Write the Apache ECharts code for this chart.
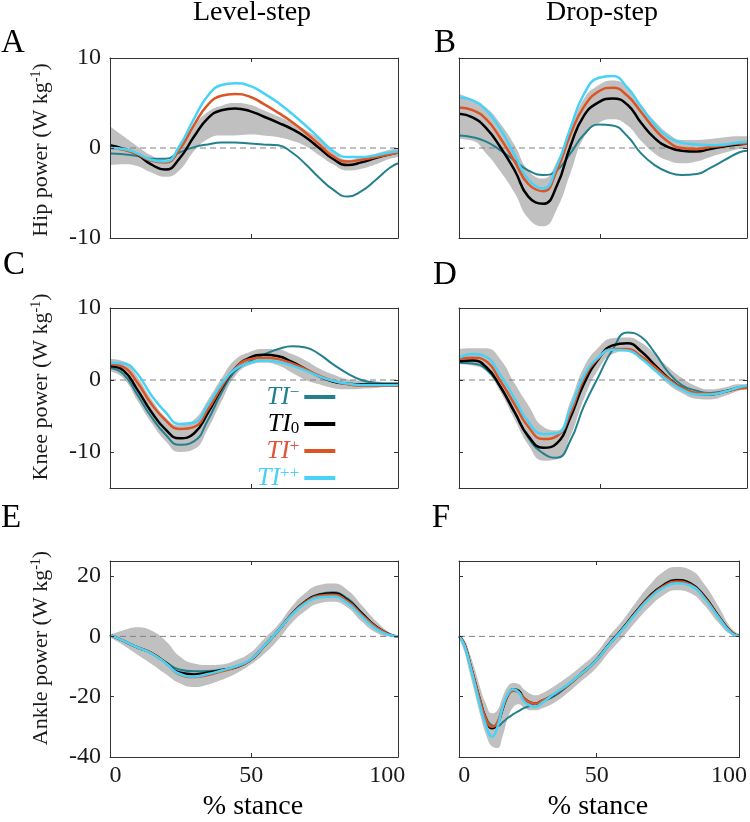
<!DOCTYPE html>
<html><head><meta charset="utf-8">
<script src="https://cdn.jsdelivr.net/npm/echarts@6/dist/echarts.min.js"></script>
<style>html,body{margin:0;padding:0;background:#fff}#c{width:750px;height:822px}</style>
</head><body><div id="c"></div>
<script>
// % stance sample positions
const stance = [-2,3,8,13,18.5,23.5,29,34,39,44,49.5,54.5,60,65,70,75,80,85.5,90.5,96,101,104];
const stanceF = [-2,0,2,4,6,8,10.5,12.5,14.5,16.5,18.5,20.5,22.5,25,27,29,34,39,44,49.5,54.5,60,65,70,75,80,85.5,90.5,96,101,104];

// A: Hip power, level-step
const hipLevelTIminus = [-0.6,-0.7,-0.9,-1.2,-1.2,-0.5,0.1,0.4,0.6,0.6,0.5,0.4,0.3,-0.5,-1.8,-3.3,-4.6,-5.4,-4.8,-3.5,-2.2,-1.7];
const hipLevelTI0     = [0.3,-0.1,-0.7,-1.8,-2.4,-1.2,1.3,3.3,4.2,4.4,4.1,3.5,2.8,2.1,1.2,0.0,-1.2,-1.9,-1.6,-1.1,-0.7,-0.5];
const hipLevelTIplus  = [0.0,-0.2,-0.7,-1.4,-1.6,-0.2,2.6,4.8,5.8,6.0,5.7,4.9,3.9,2.9,1.7,0.4,-0.9,-1.5,-1.3,-1.0,-0.7,-0.5];
const hipLevelTIpp    = [0.0,-0.1,-0.6,-1.3,-1.5,0.2,3.3,5.8,7.0,7.2,6.9,6.1,5.0,3.8,2.5,1.1,-0.3,-1.0,-1.0,-0.8,-0.5,-0.4];
const hipLevelLow     = [-1.9,-1.8,-2.0,-2.7,-3.2,-2.5,-0.3,1.0,1.4,1.4,1.5,1.4,1.2,0.8,0.2,-0.8,-1.8,-2.5,-2.3,-1.8,-1.2,-1.0];
const hipLevelHigh    = [2.4,1.3,0.2,-0.8,-1.5,0.2,2.5,4.0,4.7,5.0,4.8,4.2,3.5,2.8,2.0,1.0,-0.3,-1.3,-1.0,-0.6,-0.2,0.0];

// B: Hip power, drop-step
const hipDropTIminus = [1.4,1.2,0.7,-0.2,-1.4,-2.5,-3.0,-2.5,-0.6,1.5,2.6,2.5,1.3,-0.6,-1.9,-2.7,-3.0,-2.9,-2.2,-1.3,-0.5,-0.3];
const hipDropTI0     = [3.8,3.4,2.2,0.2,-2.5,-5.4,-6.2,-4.2,0.2,3.6,5.1,5.5,4.8,2.8,1.1,0.1,-0.3,-0.4,-0.1,0.2,0.4,0.5];
const hipDropTIplus  = [4.5,4.2,3.2,1.2,-1.5,-4.0,-4.8,-2.5,1.5,4.6,6.3,6.7,5.8,4.0,2.1,0.7,0.0,-0.1,0.1,0.3,0.5,0.5];
const hipDropTIpp    = [5.6,5.3,4.2,2.2,-0.8,-3.5,-4.5,-2.0,2.2,6.0,7.8,8.0,6.7,4.6,2.6,1.2,0.6,0.4,0.3,0.4,0.6,0.7];
const hipDropLow     = [1.0,0.8,-0.6,-2.5,-5.0,-7.8,-8.7,-6.8,-2.8,1.2,2.8,3.2,2.5,0.8,-0.6,-1.4,-1.7,-1.5,-1.0,-0.5,-0.1,0.0];
const hipDropHigh    = [6.0,5.4,4.5,2.8,0.3,-2.5,-3.4,-1.5,2.0,5.5,7.0,7.5,6.8,4.8,3.0,1.6,0.9,0.9,1.0,1.2,1.3,1.3];

// C: Knee power, level-step
const kneeLevelTIminus = [1.7,0.8,-2.0,-5.0,-7.6,-9.0,-8.5,-5.6,-1.8,1.2,2.6,3.5,4.3,4.7,4.5,3.6,2.2,0.9,0.0,-0.4,-0.5,-0.5];
const kneeLevelTI0     = [1.9,1.3,-1.3,-4.3,-6.9,-8.1,-7.4,-4.6,-1.2,1.6,3.1,3.5,3.3,2.5,1.5,0.5,-0.2,-0.5,-0.6,-0.6,-0.6,-0.6];
const kneeLevelTIplus  = [2.2,1.8,-0.3,-3.2,-5.6,-6.8,-6.5,-4.1,-1.0,1.6,2.9,3.1,2.9,2.3,1.5,0.6,-0.1,-0.6,-0.8,-0.8,-0.8,-0.8];
const kneeLevelTIpp    = [2.4,2.3,0.9,-2.0,-4.5,-6.1,-5.9,-3.5,-0.6,1.5,2.4,2.7,2.5,2.0,1.3,0.5,-0.1,-0.5,-0.7,-0.7,-0.7,-0.7];
const kneeLevelLow     = [1.2,0.2,-2.8,-5.8,-8.5,-10.0,-9.6,-6.8,-3.0,0.5,2.1,2.4,2.0,1.0,0.0,-0.6,-1.1,-1.3,-1.2,-1.1,-0.9,-0.9];
const kneeLevelHigh    = [2.9,2.6,0.5,-2.5,-5.2,-6.3,-5.5,-2.8,0.2,2.8,3.9,4.3,4.2,3.6,2.7,1.6,0.8,0.1,-0.1,-0.2,-0.3,-0.3];

// D: Knee power, drop-step
const kneeDropTIminus = [2.4,2.3,1.5,-0.8,-4.4,-8.0,-10.2,-10.8,-8.4,-3.6,0.6,4.2,6.6,6.0,3.8,1.1,-0.7,-1.5,-1.8,-1.5,-1.0,-0.8];
const kneeDropTI0     = [2.6,2.7,1.8,-0.8,-4.5,-7.8,-9.4,-8.8,-5.2,-0.5,3.0,4.8,5.1,4.0,2.1,0.3,-1.1,-1.9,-2.0,-1.6,-1.1,-0.9];
const kneeDropTIplus  = [2.9,3.1,2.6,0.0,-3.4,-6.5,-8.2,-7.8,-4.6,0.2,3.1,4.3,4.3,3.3,1.8,0.2,-1.1,-1.8,-1.9,-1.6,-1.2,-1.1];
const kneeDropTIpp    = [3.1,3.6,3.2,0.8,-2.6,-5.8,-7.5,-7.4,-4.0,0.6,3.2,4.2,4.1,3.0,1.4,-0.1,-1.3,-2.0,-2.0,-1.6,-1.0,-0.8];
const kneeDropLow     = [2.2,2.0,1.2,-1.5,-5.5,-9.0,-11.2,-11.0,-7.8,-2.6,1.6,3.6,4.0,3.0,1.2,-0.6,-1.8,-2.6,-2.7,-2.2,-1.5,-1.3];
const kneeDropHigh    = [4.3,4.4,4.4,3.0,-0.5,-3.5,-6.5,-7.0,-3.0,1.8,4.6,5.8,5.9,5.2,3.6,1.8,0.3,-0.9,-1.3,-1.0,-0.6,-0.6];

// E: Ankle power, level-step
const ankleLevelTIminus = [0.5,-1.5,-3.6,-5.4,-8.5,-11.0,-11.6,-11.5,-11.0,-10.2,-8.0,-3.5,2.0,7.6,11.8,14.0,14.6,12.5,8.0,3.3,0.6,0.0];
const ankleLevelTI0     = [0.5,-1.5,-3.6,-5.4,-8.7,-12.0,-12.6,-12.0,-11.2,-10.3,-8.0,-3.5,2.0,7.5,11.6,13.8,14.3,12.0,7.8,3.2,0.6,0.0];
const ankleLevelTIplus  = [0.5,-1.5,-3.6,-5.4,-8.8,-12.6,-13.5,-12.8,-11.6,-10.3,-8.0,-3.5,2.0,7.4,11.4,13.5,13.8,11.6,7.4,3.0,0.6,0.0];
const ankleLevelTIpp    = [0.5,-1.5,-3.6,-5.5,-8.9,-12.4,-13.3,-12.5,-11.3,-10.0,-7.8,-3.4,2.0,7.2,11.0,13.0,13.2,11.0,6.8,2.4,0.4,0.0];
const ankleLevelLow     = [-0.3,-3.0,-6.0,-9.0,-12.5,-15.5,-16.8,-16.0,-14.5,-12.5,-9.5,-6.0,-1.0,4.5,8.5,11.0,11.5,9.5,5.0,1.2,0.0,0.0];
const ankleLevelHigh    = [0.5,2.0,3.0,2.0,-1.5,-6.5,-9.0,-9.5,-9.3,-8.0,-5.5,-1.0,4.0,10.0,14.5,17.0,17.5,15.3,10.5,5.0,1.2,0.3];

// F: Ankle power, drop-step
const ankleDropTIminus = [0,-2.5,-8.5,-15,-21,-26.5,-29.5,-29.8,-28.5,-27,-25.8,-24.8,-23.8,-23,-22.3,-21.8,-19.8,-16.5,-12.6,-8.2,-2.8,2.9,8.4,13.5,17.0,18.8,17.7,13.6,6.9,1.3,0.2];
const ankleDropTI0     = [0,-2.5,-8.5,-15,-21.5,-27,-30.5,-29,-24,-19.5,-17.5,-18,-20.5,-22,-22.3,-21.5,-19.3,-16.2,-12.5,-8.2,-2.8,2.8,8.3,13.3,16.8,18.6,17.5,13.5,6.8,1.3,0.2];
const ankleDropTIplus  = [0,-2.5,-8.5,-15,-21.5,-27,-30,-28.5,-23.5,-19.5,-18,-18.5,-20.5,-22,-22.3,-21.5,-19.2,-16.3,-12.7,-8.4,-3.0,2.6,8.1,13.0,16.5,18.2,17.2,13.2,6.6,1.2,0.2];
const ankleDropTIpp    = [0,-3,-9,-16,-23,-29,-33.3,-30,-23.5,-19,-17.5,-18.5,-21.5,-23,-23.3,-22.3,-19,-16,-12.5,-8.3,-3,2.5,7.8,12.6,16,17.6,16.8,12.8,6.3,1.0,0.1];
const ankleDropLow     = [-0.5,-5,-12,-19,-26,-32,-36.5,-37,-33,-27,-23.5,-22.5,-23.5,-24.5,-24.5,-24,-22,-18.8,-15,-10.8,-5.5,-0.2,5,9.8,13.5,15.3,14.3,10.5,4.5,0.5,0];
const ankleDropHigh    = [0.5,-1,-5.5,-11,-17,-22,-25.5,-24.5,-20,-16.5,-15.5,-15.8,-17.5,-19,-19.5,-19,-16.5,-13.5,-10,-5.8,-0.2,5.5,11.5,17,21.3,23,22,17.5,10,2.5,0.8];

// axis ticks
const xTickLabels = [0, 50, 100];
const xTickMarks = [50];
const hipTicks = [-10, 0, 10];
const kneeTicks = [-10, 0, 10];
const ankleTicks = [-40, -20, 0, 20];

const seriesNames = ['TI\u2212', 'TI0', 'TI+', 'TI++'];

const FONT = 'Liberation Serif';
const COLORS = ['#23808d', '#000000', '#dc5424', '#47d2f6'];
const WIDTHS = [2, 2.5, 2.5, 2.5];
const BAND = '#c0c0c0';
const AXC = '#333333';

const panels = [
  {x: stance, lo: hipLevelLow, hi: hipLevelHigh, s: [hipLevelTIminus, hipLevelTI0, hipLevelTIplus, hipLevelTIpp],
   grid: {left: 110, top: 58, width: 288, height: 180}, y: [-10, 10], yt: hipTicks, ylab: true, xlab: false},
  {x: stance, lo: hipDropLow, hi: hipDropHigh, s: [hipDropTIminus, hipDropTI0, hipDropTIplus, hipDropTIpp],
   grid: {left: 459, top: 58, width: 288, height: 180}, y: [-10, 10], yt: hipTicks, ylab: false, xlab: false},
  {x: stance, lo: kneeLevelLow, hi: kneeLevelHigh, s: [kneeLevelTIminus, kneeLevelTI0, kneeLevelTIplus, kneeLevelTIpp],
   grid: {left: 110, top: 308, width: 288, height: 180}, y: [-15, 10], yt: kneeTicks, ylab: true, xlab: false},
  {x: stance, lo: kneeDropLow, hi: kneeDropHigh, s: [kneeDropTIminus, kneeDropTI0, kneeDropTIplus, kneeDropTIpp],
   grid: {left: 459, top: 308, width: 288, height: 180}, y: [-15, 10], yt: kneeTicks, ylab: false, xlab: false},
  {x: stance, lo: ankleLevelLow, hi: ankleLevelHigh, s: [ankleLevelTIminus, ankleLevelTI0, ankleLevelTIplus, ankleLevelTIpp],
   grid: {left: 110, top: 561, width: 288, height: 196}, y: [-40, 25], yt: ankleTicks, ylab: true, xlab: true},
  {x: stanceF, lo: ankleDropLow, hi: ankleDropHigh, s: [ankleDropTIminus, ankleDropTI0, ankleDropTIplus, ankleDropTIpp],
   grid: {left: 459, top: 561, width: 288, height: 196}, y: [-40, 25], yt: ankleTicks, ylab: false, xlab: true}
];

const grids = [], xAxes = [], yAxes = [], series = [];
const zip = (xs, ys) => xs.map((x, i) => [x, ys[i]]);

panels.forEach((p, i) => {
  grids.push(Object.assign({containLabel: false}, p.grid));
  ['bottom', 'top'].forEach((pos, k) => {
    xAxes.push({
      gridIndex: i, type: 'value', min: -2, max: 104, position: pos, z: 5,
      axisLine: {show: true, onZero: false, lineStyle: {color: AXC, width: 1}},
      axisTick: {show: true, inside: true, length: 4, customValues: xTickMarks, lineStyle: {color: AXC, width: 1}},
      axisLabel: {show: k === 0 && p.xlab, customValues: xTickLabels, fontFamily: FONT, fontSize: 24, color: '#1a1a1a', margin: 7},
      splitLine: {show: false}
    });
  });
  ['left', 'right'].forEach((pos, k) => {
    yAxes.push({
      gridIndex: i, type: 'value', min: p.y[0], max: p.y[1], position: pos, z: 5,
      axisLine: {show: true, onZero: false, lineStyle: {color: AXC, width: 1}},
      axisTick: {show: true, inside: true, length: 4, customValues: p.yt, lineStyle: {color: AXC, width: 1}},
      axisLabel: {show: k === 0 && p.ylab, customValues: p.yt, fontFamily: FONT, fontSize: 24, color: '#1a1a1a', margin: 9},
      splitLine: {show: false}
    });
  });
  const xi = 2 * i, yi = 2 * i;
  // SD band: grey fill under the high edge, white fill under the low edge
  series.push({
    name: 'band', type: 'line', xAxisIndex: xi, yAxisIndex: yi,
    data: zip(p.x, p.hi), smooth: true, showSymbol: false, silent: true,
    lineStyle: {width: 0, opacity: 0}, areaStyle: {color: BAND, opacity: 1, origin: 'start'}, z: 1
  });
  series.push({
    name: 'bandmask', type: 'line', xAxisIndex: xi, yAxisIndex: yi,
    data: zip(p.x, p.lo), smooth: true, showSymbol: false, silent: true,
    lineStyle: {width: 0, opacity: 0}, areaStyle: {color: '#ffffff', opacity: 1, origin: 'start'}, z: 1
  });
  // zero reference
  series.push({
    name: 'zero', type: 'line', xAxisIndex: xi, yAxisIndex: yi,
    data: [[-2, 0], [104, 0]], showSymbol: false, silent: true,
    lineStyle: {color: '#808080', width: 1, type: [6, 4]}, z: 2
  });
  p.s.forEach((vals, k) => {
    series.push({
      name: seriesNames[k], type: 'line', xAxisIndex: xi, yAxisIndex: yi,
      data: zip(p.x, vals), smooth: true, showSymbol: false,
      color: COLORS[k], itemStyle: {color: COLORS[k]},
      lineStyle: {color: COLORS[k], width: WIDTHS[k]}, z: 3
    });
  });
});

const legendRich = {
  'TI\u2212': '{a|TI}{as|\u2212}',
  'TI0': '{b|TI}{bs|0}',
  'TI+': '{c|TI}{cs|+}',
  'TI++': '{d|TI}{ds|++}'
};
const mainTok = c => ({color: c, fontFamily: FONT, fontStyle: 'italic', fontSize: 26, lineHeight: 26});
const supTok = c => ({color: c, fontFamily: FONT, fontSize: 17, lineHeight: 16, verticalAlign: 'top'});
const subTok = c => ({color: c, fontFamily: FONT, fontSize: 17, lineHeight: 16, verticalAlign: 'bottom'});

const txt = (x, y, text, size, extra) => Object.assign({
  type: 'text', x: x, y: y,
  style: {text: text, fontFamily: FONT, fontSize: size, fill: '#000', align: 'center', verticalAlign: 'middle'}
}, extra || {});

const yRich = {n: {fontFamily: FONT, fontSize: 22, fill: '#1a1a1a', lineHeight: 24}, s: {fontFamily: FONT, fontSize: 14, fill: '#1a1a1a', lineHeight: 14, verticalAlign: 'top'}};
const ylab = (y, word) => ({
  type: 'text', x: 41, y: y, rotation: Math.PI / 2,
  style: {text: '{n|' + word + ' power (W kg}{s|-1}{n|)}', rich: yRich, align: 'center', verticalAlign: 'middle'}
});

const option = {
  animation: false,
  backgroundColor: '#ffffff',
  grid: grids, xAxis: xAxes, yAxis: yAxes, series: series,
  legend: {
    data: seriesNames, orient: 'vertical', left: 257, top: 384, padding: 0, align: 'right',
    icon: 'rect', itemWidth: 31, itemHeight: 4, itemGap: 1, selectedMode: false,
    formatter: name => legendRich[name],
    textStyle: {
      width: 30, fontFamily: FONT, fontSize: 24,
      rich: {
        a: mainTok(COLORS[0]), as: supTok(COLORS[0]),
        b: mainTok('#000'), bs: subTok('#000'),
        c: mainTok('#e0553c'), cs: supTok('#e0553c'),
        d: mainTok(COLORS[3]), ds: supTok(COLORS[3])
      }
    }
  },
  graphic: [
    txt(252, 13, 'Level-step', 28),
    txt(602, 13, 'Drop-step', 28),
    txt(13, 43, 'A', 33),
    txt(445, 43, 'B', 33),
    txt(14, 265, 'C', 33),
    txt(445, 275, 'D', 33),
    txt(11, 518, 'E', 33),
    txt(441, 518, 'F', 33),
    txt(253, 807, '% stance', 28),
    txt(598, 807, '% stance', 28),
    ylab(150, 'Hip'),
    ylab(387, 'Knee'),
    ylab(648, 'Ankle')
  ]
};

const chart = echarts.init(document.getElementById('c'));
chart.setOption(option);
</script>
</body></html>
